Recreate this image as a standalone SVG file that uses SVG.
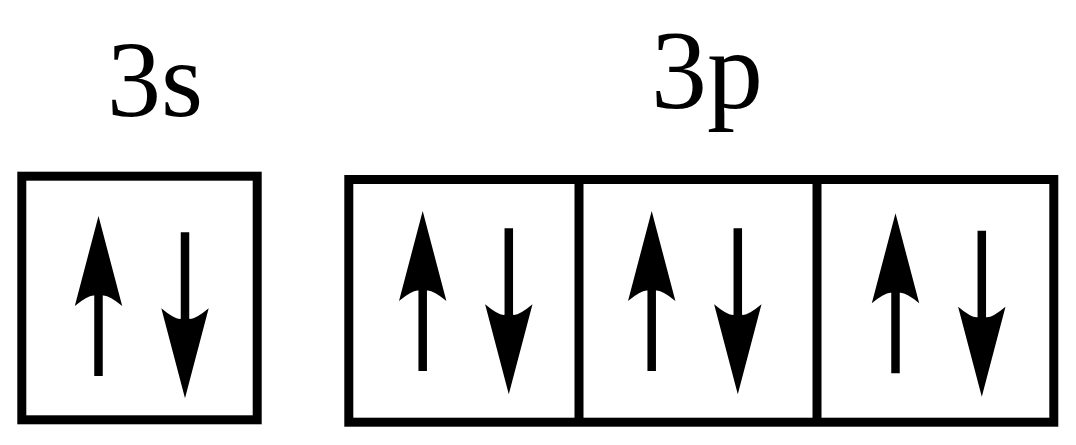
<svg xmlns="http://www.w3.org/2000/svg" xmlns:xlink="http://www.w3.org/1999/xlink" width="1076" height="445" viewBox="0 0 1076 445">
  <style>
    .box { fill: none; stroke: #000; stroke-width: 9; }
    .div { stroke: #000; stroke-width: 9; }
    .arr { fill: #000; }
  </style>
  <defs>
    <path id="up" d="M0,0 L23.7,90 Q10,78.5 4.25,79.5 L4.25,160 L-4.25,160 L-4.25,79.5 Q-10,78.5 -23.7,90 Z"/>
    <path id="down" d="M0,0 L23.7,-90 Q10,-78.5 4.25,-79.5 L4.25,-166 L-4.25,-166 L-4.25,-79.5 Q-10,-78.5 -23.7,-90 Z"/>
  </defs>
  <rect width="1076" height="445" fill="#fff"/>

  <g id="orbital-3s">
    <text font-family="'Liberation Serif', 'Times New Roman', Times, serif" fill="#000" x="107" y="116" font-size="108">3s</text>
    <rect class="box" x="21.8" y="176.2" width="235.4" height="243.6"/>
    <use class="arr" xlink:href="#up" transform="translate(98.5,216)"/>
    <use class="arr" xlink:href="#down" transform="translate(185,398.3)"/>
  </g>

  <g id="orbital-3p">
    <text font-family="'Liberation Serif', 'Times New Roman', Times, serif" fill="#000" x="651" y="108.3" font-size="112">3p</text>
    <rect class="box" x="348.8" y="179.5" width="705" height="242.7"/>
    <line class="div" x1="579" y1="179.5" x2="579" y2="422.2"/>
    <line class="div" x1="817" y1="179.5" x2="817" y2="422.2"/>
    <g id="cell-3p-1">
      <use class="arr" xlink:href="#up" transform="translate(422.7,211)"/>
      <use class="arr" xlink:href="#down" transform="translate(508.8,394.3)"/>
    </g>
    <g id="cell-3p-2">
      <use class="arr" xlink:href="#up" transform="translate(651.7,211)"/>
      <use class="arr" xlink:href="#down" transform="translate(737.8,394.3)"/>
    </g>
    <g id="cell-3p-3">
      <use class="arr" xlink:href="#up" transform="translate(895.5,213.3)"/>
      <use class="arr" xlink:href="#down" transform="translate(981.8,396.7)"/>
    </g>
  </g>

  <g id="connectors"></g>
</svg>
